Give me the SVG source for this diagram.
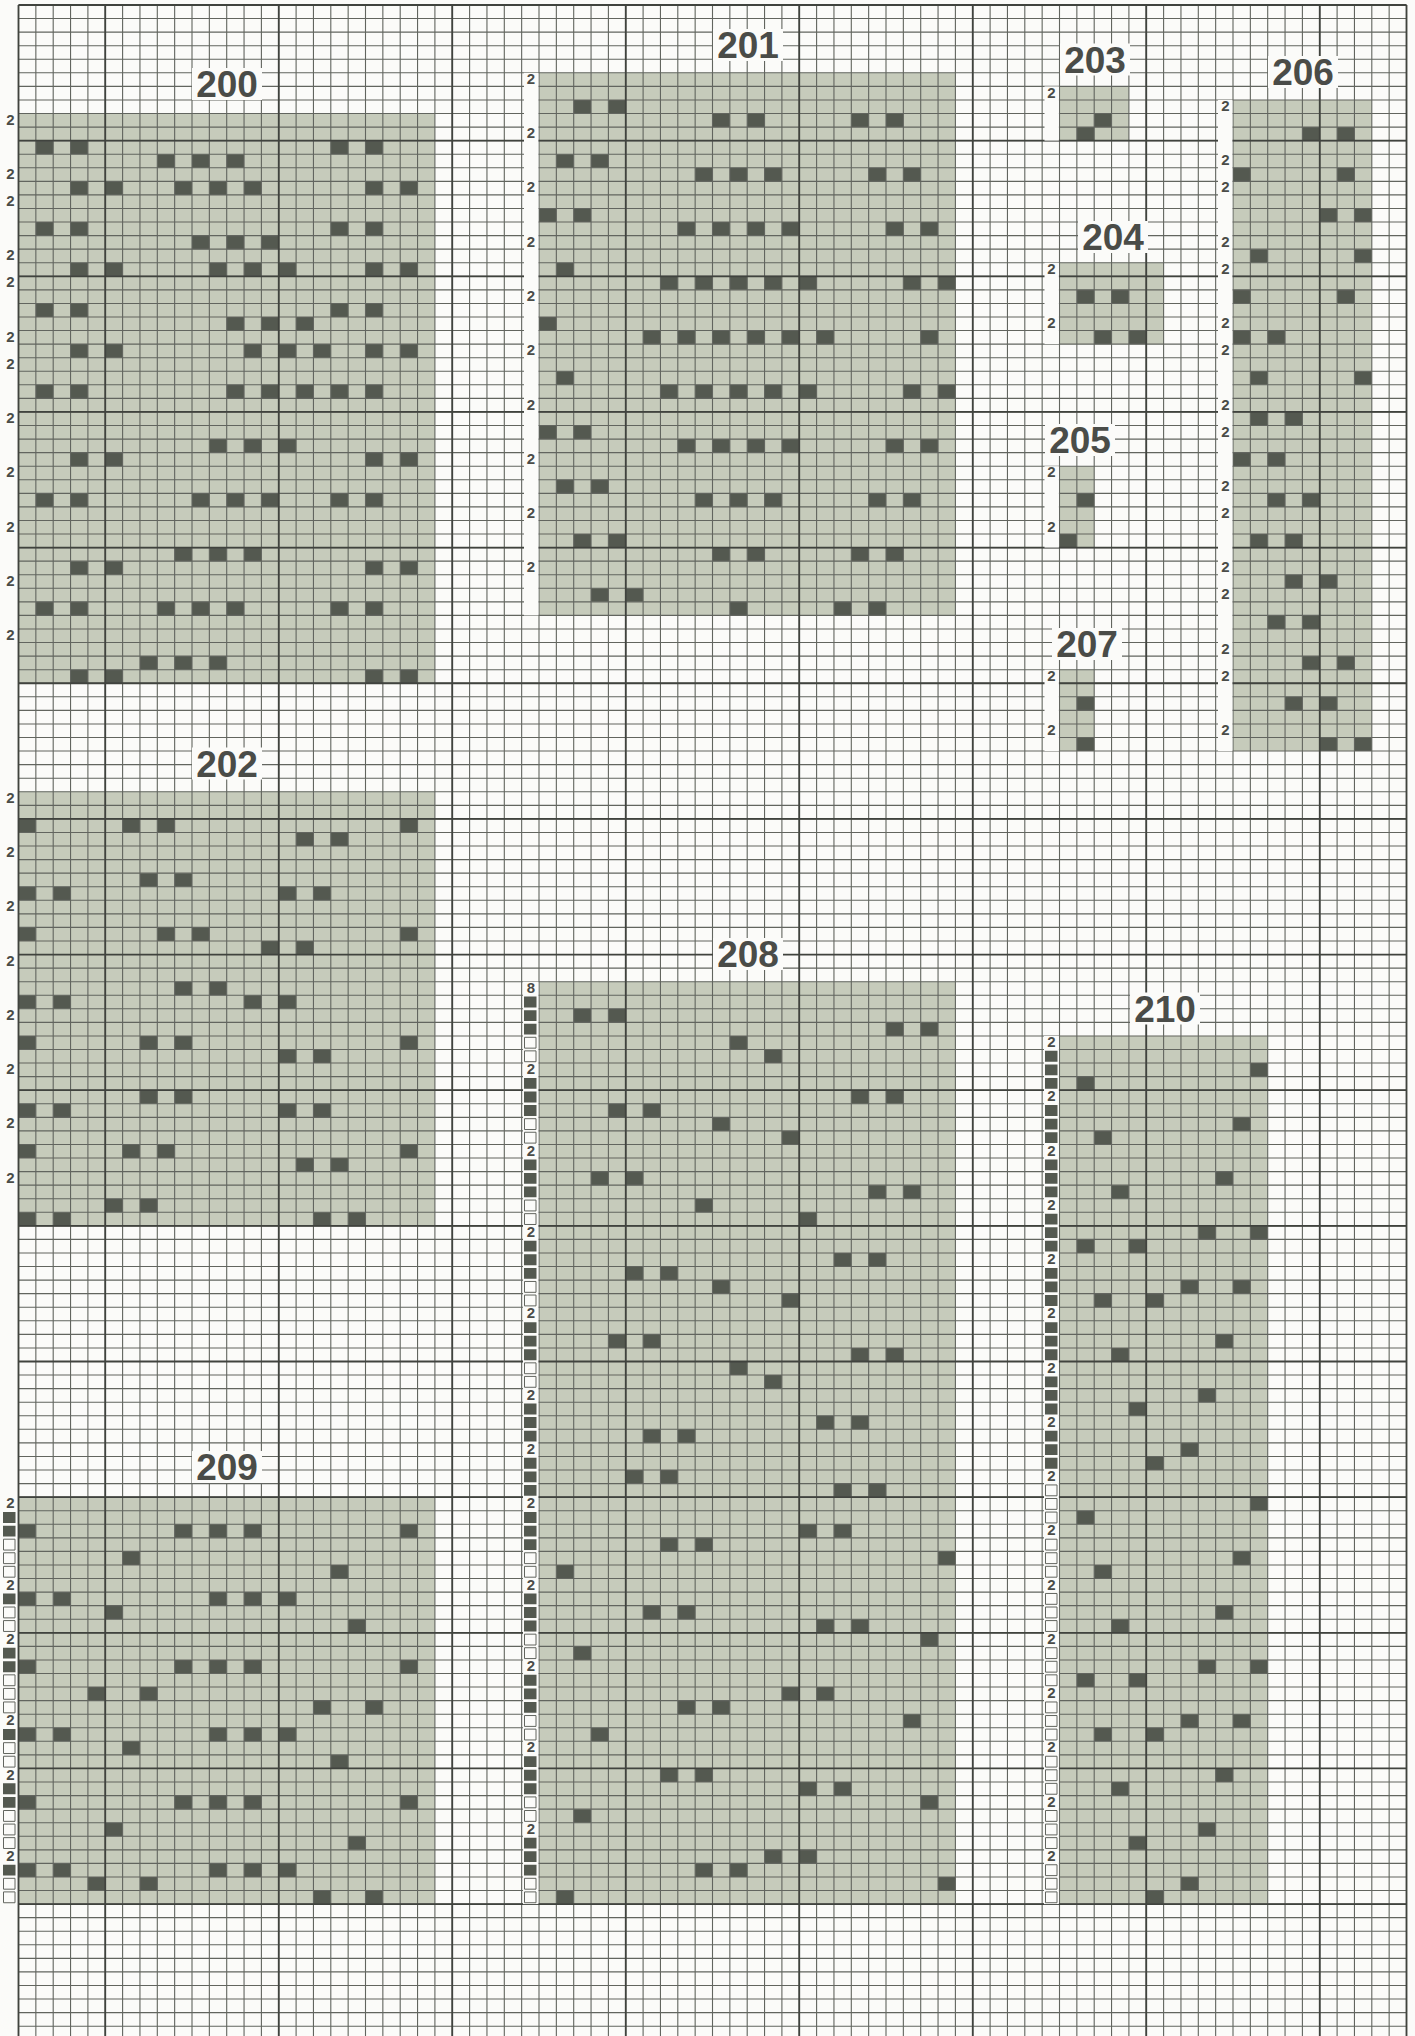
<svg xmlns="http://www.w3.org/2000/svg" width="1415" height="2036" viewBox="0 0 1415 2036">
<style>
.bg{fill:#fbfbf9}
.pf{fill:#c6cbbb}
.dk{fill:none;stroke:#545950;stroke-width:1}
.thin{fill:none;stroke:#62655f;stroke-width:1.1;vector-effect:non-scaling-stroke}
.heavy{fill:none;stroke:#40433e;stroke-width:1.8;vector-effect:non-scaling-stroke}
.strip{fill:#fbfbf9}
.lbl{font-family:"Liberation Sans",Arial,sans-serif;font-weight:bold;font-size:15px;fill:#4a4c48;text-anchor:middle}
.ttl{font-family:"Liberation Sans",Arial,sans-serif;font-weight:bold;font-size:37px;fill:#4a4c48;text-anchor:middle}
.tb{fill:#fbfbf9}
.mk{fill:none;stroke:#545950;stroke-width:.8}
.mo{fill:#fbfbf9;stroke:#62655f;stroke-width:1;vector-effect:non-scaling-stroke}
</style>
<rect class="bg" width="1415" height="2036"/>

<g id="panel-200" transform="translate(18.5 113.52) scale(17.35 13.565)"><rect class="pf" width="24" height="42"/><path class="dk" d="M1 2.5h1M3 2.5h1M18 2.5h1M20 2.5h1M8 3.5h1M10 3.5h1M12 3.5h1M3 5.5h1M5 5.5h1M9 5.5h1M11 5.5h1M13 5.5h1M20 5.5h1M22 5.5h1M1 8.5h1M3 8.5h1M18 8.5h1M20 8.5h1M10 9.5h1M12 9.5h1M14 9.5h1M3 11.5h1M5 11.5h1M11 11.5h1M13 11.5h1M15 11.5h1M20 11.5h1M22 11.5h1M1 14.5h1M3 14.5h1M18 14.5h1M20 14.5h1M12 15.5h1M14 15.5h1M16 15.5h1M3 17.5h1M5 17.5h1M13 17.5h1M15 17.5h1M17 17.5h1M20 17.5h1M22 17.5h1M1 20.5h1M3 20.5h1M12 20.5h1M14 20.5h1M16 20.5h1M18 20.5h1M20 20.5h1M11 24.5h1M13 24.5h1M15 24.5h1M3 25.5h1M5 25.5h1M20 25.5h1M22 25.5h1M1 28.5h1M3 28.5h1M10 28.5h1M12 28.5h1M14 28.5h1M18 28.5h1M20 28.5h1M9 32.5h1M11 32.5h1M13 32.5h1M3 33.5h1M5 33.5h1M20 33.5h1M22 33.5h1M1 36.5h1M3 36.5h1M8 36.5h1M10 36.5h1M12 36.5h1M18 36.5h1M20 36.5h1M7 40.5h1M9 40.5h1M11 40.5h1M3 41.5h1M5 41.5h1M20 41.5h1M22 41.5h1"/></g>

<g id="panel-201" transform="translate(539 72.83) scale(17.35 13.565)"><rect class="pf" width="24" height="40"/><path class="dk" d="M2 2.5h1M4 2.5h1M10 3.5h1M12 3.5h1M18 3.5h1M20 3.5h1M1 6.5h1M3 6.5h1M9 7.5h1M11 7.5h1M13 7.5h1M19 7.5h1M21 7.5h1M0 10.5h1M2 10.5h1M8 11.5h1M10 11.5h1M12 11.5h1M14 11.5h1M20 11.5h1M22 11.5h1M1 14.5h1M7 15.5h1M9 15.5h1M11 15.5h1M13 15.5h1M15 15.5h1M21 15.5h1M23 15.5h1M0 18.5h1M6 19.5h1M8 19.5h1M10 19.5h1M12 19.5h1M14 19.5h1M16 19.5h1M22 19.5h1M1 22.5h1M7 23.5h1M9 23.5h1M11 23.5h1M13 23.5h1M15 23.5h1M21 23.5h1M23 23.5h1M0 26.5h1M2 26.5h1M8 27.5h1M10 27.5h1M12 27.5h1M14 27.5h1M20 27.5h1M22 27.5h1M1 30.5h1M3 30.5h1M9 31.5h1M11 31.5h1M13 31.5h1M19 31.5h1M21 31.5h1M2 34.5h1M4 34.5h1M10 35.5h1M12 35.5h1M18 35.5h1M20 35.5h1M3 38.5h1M5 38.5h1M11 39.5h1M17 39.5h1M19 39.5h1"/></g>

<g id="panel-203" transform="translate(1059.5 86.39) scale(17.35 13.565)"><rect class="pf" width="4" height="4"/><path class="dk" d="M2 2.5h1M1 3.5h1"/></g>
<g id="panel-204" transform="translate(1059.5 262.74) scale(17.35 13.565)"><rect class="pf" width="6" height="6"/><path class="dk" d="M1 2.5h1M3 2.5h1M2 5.5h1M4 5.5h1"/></g>
<g id="panel-205" transform="translate(1059.5 466.21) scale(17.35 13.565)"><rect class="pf" width="2" height="6"/><path class="dk" d="M1 2.5h1M0 5.5h1"/></g>
<g id="panel-207" transform="translate(1059.5 669.69) scale(17.35 13.565)"><rect class="pf" width="2" height="6"/><path class="dk" d="M1 2.5h1M1 5.5h1"/></g>

<g id="panel-206" transform="translate(1233 99.96) scale(17.35 13.565)"><rect class="pf" width="8" height="48"/><path class="dk" d="M4 2.5h1M6 2.5h1M0 5.5h1M6 5.5h1M5 8.5h1M7 8.5h1M1 11.5h1M7 11.5h1M0 14.5h1M6 14.5h1M0 17.5h1M2 17.5h1M1 20.5h1M7 20.5h1M1 23.5h1M3 23.5h1M0 26.5h1M2 26.5h1M2 29.5h1M4 29.5h1M1 32.5h1M3 32.5h1M3 35.5h1M5 35.5h1M2 38.5h1M4 38.5h1M4 41.5h1M6 41.5h1M3 44.5h1M5 44.5h1M5 47.5h1M7 47.5h1"/></g>

<g id="panel-202" transform="translate(18.5 791.77) scale(17.35 13.565)"><rect class="pf" width="24" height="32"/><path class="dk" d="M0 2.5h1M6 2.5h1M8 2.5h1M22 2.5h1M16 3.5h1M18 3.5h1M7 6.5h1M9 6.5h1M0 7.5h1M2 7.5h1M15 7.5h1M17 7.5h1M0 10.5h1M8 10.5h1M10 10.5h1M22 10.5h1M14 11.5h1M16 11.5h1M9 14.5h1M11 14.5h1M0 15.5h1M2 15.5h1M13 15.5h1M15 15.5h1M0 18.5h1M7 18.5h1M9 18.5h1M22 18.5h1M15 19.5h1M17 19.5h1M7 22.5h1M9 22.5h1M0 23.5h1M2 23.5h1M15 23.5h1M17 23.5h1M0 26.5h1M6 26.5h1M8 26.5h1M22 26.5h1M16 27.5h1M18 27.5h1M5 30.5h1M7 30.5h1M0 31.5h1M2 31.5h1M17 31.5h1M19 31.5h1"/></g>

<g id="panel-208" transform="translate(539 981.68) scale(17.35 13.565)"><rect class="pf" width="24" height="68"/><path class="dk" d="M2 2.5h1M4 2.5h1M20 3.5h1M22 3.5h1M11 4.5h1M13 5.5h1M18 8.5h1M20 8.5h1M4 9.5h1M6 9.5h1M10 10.5h1M14 11.5h1M3 14.5h1M5 14.5h1M19 15.5h1M21 15.5h1M9 16.5h1M15 17.5h1M17 20.5h1M19 20.5h1M5 21.5h1M7 21.5h1M10 22.5h1M14 23.5h1M4 26.5h1M6 26.5h1M18 27.5h1M20 27.5h1M11 28.5h1M13 29.5h1M16 32.5h1M18 32.5h1M6 33.5h1M8 33.5h1M5 36.5h1M7 36.5h1M17 37.5h1M19 37.5h1M15 40.5h1M17 40.5h1M7 41.5h1M9 41.5h1M23 42.5h1M1 43.5h1M6 46.5h1M8 46.5h1M16 47.5h1M18 47.5h1M22 48.5h1M2 49.5h1M14 52.5h1M16 52.5h1M8 53.5h1M10 53.5h1M21 54.5h1M3 55.5h1M7 58.5h1M9 58.5h1M15 59.5h1M17 59.5h1M22 60.5h1M2 61.5h1M13 64.5h1M15 64.5h1M9 65.5h1M11 65.5h1M23 66.5h1M1 67.5h1"/></g>

<g id="panel-210" transform="translate(1059.5 1035.94) scale(17.35 13.565)"><rect class="pf" width="12" height="64"/><path class="dk" d="M11 2.5h1M1 3.5h1M10 6.5h1M2 7.5h1M9 10.5h1M3 11.5h1M8 14.5h1M11 14.5h1M1 15.5h1M4 15.5h1M7 18.5h1M10 18.5h1M2 19.5h1M5 19.5h1M9 22.5h1M3 23.5h1M8 26.5h1M4 27.5h1M7 30.5h1M5 31.5h1M11 34.5h1M1 35.5h1M10 38.5h1M2 39.5h1M9 42.5h1M3 43.5h1M8 46.5h1M11 46.5h1M1 47.5h1M4 47.5h1M7 50.5h1M10 50.5h1M2 51.5h1M5 51.5h1M9 54.5h1M3 55.5h1M8 58.5h1M4 59.5h1M7 62.5h1M5 63.5h1"/></g>

<g id="panel-209" transform="translate(18.5 1497.15) scale(17.35 13.565)"><rect class="pf" width="24" height="30"/><path class="dk" d="M0 2.5h1M9 2.5h1M11 2.5h1M13 2.5h1M22 2.5h1M6 4.5h1M18 5.5h1M0 7.5h1M2 7.5h1M11 7.5h1M13 7.5h1M15 7.5h1M5 8.5h1M19 9.5h1M0 12.5h1M9 12.5h1M11 12.5h1M13 12.5h1M22 12.5h1M4 14.5h1M7 14.5h1M17 15.5h1M20 15.5h1M0 17.5h1M2 17.5h1M11 17.5h1M13 17.5h1M15 17.5h1M6 18.5h1M18 19.5h1M0 22.5h1M9 22.5h1M11 22.5h1M13 22.5h1M22 22.5h1M5 24.5h1M19 25.5h1M0 27.5h1M2 27.5h1M11 27.5h1M13 27.5h1M15 27.5h1M4 28.5h1M7 28.5h1M17 29.5h1M20 29.5h1"/></g>

<g id="grid" transform="translate(18.5 5) scale(17.35 13.565)">
<path class="thin" d="M0 0V150M1 0V150M2 0V150M3 0V150M4 0V150M5 0V150M6 0V150M7 0V150M8 0V150M9 0V150M10 0V150M11 0V150M12 0V150M13 0V150M14 0V150M15 0V150M16 0V150M17 0V150M18 0V150M19 0V150M20 0V150M21 0V150M22 0V150M23 0V150M24 0V150M25 0V150M26 0V150M27 0V150M28 0V150M29 0V150M30 0V150M31 0V150M32 0V150M33 0V150M34 0V150M35 0V150M36 0V150M37 0V150M38 0V150M39 0V150M40 0V150M41 0V150M42 0V150M43 0V150M44 0V150M45 0V150M46 0V150M47 0V150M48 0V150M49 0V150M50 0V150M51 0V150M52 0V150M53 0V150M54 0V150M55 0V150M56 0V150M57 0V150M58 0V150M59 0V150M60 0V150M61 0V150M62 0V150M63 0V150M64 0V150M65 0V150M66 0V150M67 0V150M68 0V150M69 0V150M70 0V150M71 0V150M72 0V150M73 0V150M74 0V150M75 0V150M76 0V150M77 0V150M78 0V150M79 0V150M80 0V150"/>
<path class="thin" d="M0 0H80M0 1H80M0 2H80M0 3H80M0 4H80M0 5H80M0 6H80M0 7H80M0 8H80M0 9H80M0 10H80M0 11H80M0 12H80M0 13H80M0 14H80M0 15H80M0 16H80M0 17H80M0 18H80M0 19H80M0 20H80M0 21H80M0 22H80M0 23H80M0 24H80M0 25H80M0 26H80M0 27H80M0 28H80M0 29H80M0 30H80M0 31H80M0 32H80M0 33H80M0 34H80M0 35H80M0 36H80M0 37H80M0 38H80M0 39H80M0 40H80M0 41H80M0 42H80M0 43H80M0 44H80M0 45H80M0 46H80M0 47H80M0 48H80M0 49H80M0 50H80M0 51H80M0 52H80M0 53H80M0 54H80M0 55H80M0 56H80M0 57H80M0 58H80M0 59H80M0 60H80M0 61H80M0 62H80M0 63H80M0 64H80M0 65H80M0 66H80M0 67H80M0 68H80M0 69H80M0 70H80M0 71H80M0 72H80M0 73H80M0 74H80M0 75H80M0 76H80M0 77H80M0 78H80M0 79H80M0 80H80M0 81H80M0 82H80M0 83H80M0 84H80M0 85H80M0 86H80M0 87H80M0 88H80M0 89H80M0 90H80M0 91H80M0 92H80M0 93H80M0 94H80M0 95H80M0 96H80M0 97H80M0 98H80M0 99H80M0 100H80M0 101H80M0 102H80M0 103H80M0 104H80M0 105H80M0 106H80M0 107H80M0 108H80M0 109H80M0 110H80M0 111H80M0 112H80M0 113H80M0 114H80M0 115H80M0 116H80M0 117H80M0 118H80M0 119H80M0 120H80M0 121H80M0 122H80M0 123H80M0 124H80M0 125H80M0 126H80M0 127H80M0 128H80M0 129H80M0 130H80M0 131H80M0 132H80M0 133H80M0 134H80M0 135H80M0 136H80M0 137H80M0 138H80M0 139H80M0 140H80M0 141H80M0 142H80M0 143H80M0 144H80M0 145H80M0 146H80M0 147H80M0 148H80M0 149H80"/>
<path class="heavy" d="M0 0V150M80 0V150M5 0V150M15 0V150M25 0V150M35 0V150M45 0V150M55 0V150M65 0V150M75 0V150M0 0H80M0 10H80M0 20H80M0 30H80M0 40H80M0 50H80M0 60H80M0 70H80M0 80H80M0 90H80M0 100H80M0 110H80M0 120H80M0 130H80M0 140H80"/>
</g>

<g id="label-strips">
<rect class="strip" x="524" y="72.83" width="14.4" height="542.6"/>
<rect class="strip" x="1044.5" y="86.39" width="14.4" height="54.26"/>
<rect class="strip" x="1044.5" y="262.74" width="14.4" height="81.39"/>
<rect class="strip" x="1044.5" y="466.21" width="14.4" height="81.39"/>
<rect class="strip" x="1044.5" y="669.69" width="14.4" height="81.39"/>
<rect class="strip" x="1218" y="99.96" width="14.4" height="651.12"/>
<rect class="strip" x="523" y="981.68" width="15.4" height="922.42"/>
<rect class="strip" x="1044" y="1035.94" width="14.9" height="868.16"/>
</g>

<g id="row-labels" class="lbl">
<text x="10.5" y="124.6">2</text><text x="10.5" y="178.8">2</text><text x="10.5" y="206">2</text><text x="10.5" y="260.2">2</text><text x="10.5" y="287.4">2</text><text x="10.5" y="341.6">2</text><text x="10.5" y="368.8">2</text><text x="10.5" y="423">2</text><text x="10.5" y="477.3">2</text><text x="10.5" y="531.5">2</text><text x="10.5" y="585.8">2</text><text x="10.5" y="640.1">2</text>
<text x="531" y="83.9">2</text><text x="531" y="138.2">2</text><text x="531" y="192.4">2</text><text x="531" y="246.7">2</text><text x="531" y="300.9">2</text><text x="531" y="355.2">2</text><text x="531" y="409.5">2</text><text x="531" y="463.7">2</text><text x="531" y="518">2</text><text x="531" y="572.2">2</text>
<text x="1051.5" y="97.5">2</text>
<text x="1051.5" y="273.8">2</text><text x="1051.5" y="328.1">2</text>
<text x="1051.5" y="477.3">2</text><text x="1051.5" y="531.5">2</text>
<text x="1051.5" y="680.8">2</text><text x="1051.5" y="735">2</text>
<text x="1225.5" y="111">2</text><text x="1225.5" y="165.3">2</text><text x="1225.5" y="192.4">2</text><text x="1225.5" y="246.7">2</text><text x="1225.5" y="273.8">2</text><text x="1225.5" y="328.1">2</text><text x="1225.5" y="355.2">2</text><text x="1225.5" y="409.5">2</text><text x="1225.5" y="436.6">2</text><text x="1225.5" y="490.8">2</text><text x="1225.5" y="518">2</text><text x="1225.5" y="572.2">2</text><text x="1225.5" y="599.4">2</text><text x="1225.5" y="653.6">2</text><text x="1225.5" y="680.8">2</text><text x="1225.5" y="735">2</text>
<text x="10.5" y="802.8">2</text><text x="10.5" y="857.1">2</text><text x="10.5" y="911.4">2</text><text x="10.5" y="965.6">2</text><text x="10.5" y="1019.9">2</text><text x="10.5" y="1074.1">2</text><text x="10.5" y="1128.4">2</text><text x="10.5" y="1182.7">2</text>
<text x="531" y="992.8">8</text><text x="531" y="1074.1">2</text><text x="531" y="1155.5">2</text><text x="531" y="1236.9">2</text><text x="531" y="1318.3">2</text><text x="531" y="1399.7">2</text><text x="531" y="1454">2</text><text x="531" y="1508.2">2</text><text x="531" y="1589.6">2</text><text x="531" y="1671">2</text><text x="531" y="1752.4">2</text><text x="531" y="1833.8">2</text>
<text x="1051.5" y="1047">2</text><text x="1051.5" y="1101.3">2</text><text x="1051.5" y="1155.5">2</text><text x="1051.5" y="1209.8">2</text><text x="1051.5" y="1264.1">2</text><text x="1051.5" y="1318.3">2</text><text x="1051.5" y="1372.6">2</text><text x="1051.5" y="1426.8">2</text><text x="1051.5" y="1481.1">2</text><text x="1051.5" y="1535.4">2</text><text x="1051.5" y="1589.6">2</text><text x="1051.5" y="1643.9">2</text><text x="1051.5" y="1698.1">2</text><text x="1051.5" y="1752.4">2</text><text x="1051.5" y="1806.7">2</text><text x="1051.5" y="1860.9">2</text>
<text x="10.5" y="1508.2">2</text><text x="10.5" y="1589.6">2</text><text x="10.5" y="1643.9">2</text><text x="10.5" y="1725.3">2</text><text x="10.5" y="1779.5">2</text><text x="10.5" y="1860.9">2</text>
</g>

<g id="markers-208" transform="translate(524 981.68) scale(1 13.565)">
<path class="mk" d="M0 1.5h12.5M0 2.5h12.5M0 3.5h12.5M0 7.5h12.5M0 8.5h12.5M0 9.5h12.5M0 13.5h12.5M0 14.5h12.5M0 15.5h12.5M0 19.5h12.5M0 20.5h12.5M0 21.5h12.5M0 25.5h12.5M0 26.5h12.5M0 27.5h12.5M0 31.5h12.5M0 32.5h12.5M0 33.5h12.5M0 35.5h12.5M0 36.5h12.5M0 37.5h12.5M0 39.5h12.5M0 40.5h12.5M0 41.5h12.5M0 45.5h12.5M0 46.5h12.5M0 47.5h12.5M0 51.5h12.5M0 52.5h12.5M0 53.5h12.5M0 57.5h12.5M0 58.5h12.5M0 59.5h12.5M0 63.5h12.5M0 64.5h12.5M0 65.5h12.5"/>
<path class="mo" d="M.5 4.1h11.5v.8h-11.5zM.5 5.1h11.5v.8h-11.5zM.5 10.1h11.5v.8h-11.5zM.5 11.1h11.5v.8h-11.5zM.5 16.1h11.5v.8h-11.5zM.5 17.1h11.5v.8h-11.5zM.5 22.1h11.5v.8h-11.5zM.5 23.1h11.5v.8h-11.5zM.5 28.1h11.5v.8h-11.5zM.5 29.1h11.5v.8h-11.5zM.5 42.1h11.5v.8h-11.5zM.5 43.1h11.5v.8h-11.5zM.5 48.1h11.5v.8h-11.5zM.5 49.1h11.5v.8h-11.5zM.5 54.1h11.5v.8h-11.5zM.5 55.1h11.5v.8h-11.5zM.5 60.1h11.5v.8h-11.5zM.5 61.1h11.5v.8h-11.5zM.5 66.1h11.5v.8h-11.5zM.5 67.1h11.5v.8h-11.5z"/>
</g>

<g id="markers-210" transform="translate(1045 1035.94) scale(1 13.565)">
<path class="mk" d="M0 1.5h12.5M0 2.5h12.5M0 3.5h12.5M0 5.5h12.5M0 6.5h12.5M0 7.5h12.5M0 9.5h12.5M0 10.5h12.5M0 11.5h12.5M0 13.5h12.5M0 14.5h12.5M0 15.5h12.5M0 17.5h12.5M0 18.5h12.5M0 19.5h12.5M0 21.5h12.5M0 22.5h12.5M0 23.5h12.5M0 25.5h12.5M0 26.5h12.5M0 27.5h12.5M0 29.5h12.5M0 30.5h12.5M0 31.5h12.5"/>
<path class="mo" d="M.5 33.1h11.5v.8h-11.5zM.5 34.1h11.5v.8h-11.5zM.5 35.1h11.5v.8h-11.5zM.5 37.1h11.5v.8h-11.5zM.5 38.1h11.5v.8h-11.5zM.5 39.1h11.5v.8h-11.5zM.5 41.1h11.5v.8h-11.5zM.5 42.1h11.5v.8h-11.5zM.5 43.1h11.5v.8h-11.5zM.5 45.1h11.5v.8h-11.5zM.5 46.1h11.5v.8h-11.5zM.5 47.1h11.5v.8h-11.5zM.5 49.1h11.5v.8h-11.5zM.5 50.1h11.5v.8h-11.5zM.5 51.1h11.5v.8h-11.5zM.5 53.1h11.5v.8h-11.5zM.5 54.1h11.5v.8h-11.5zM.5 55.1h11.5v.8h-11.5zM.5 57.1h11.5v.8h-11.5zM.5 58.1h11.5v.8h-11.5zM.5 59.1h11.5v.8h-11.5zM.5 61.1h11.5v.8h-11.5zM.5 62.1h11.5v.8h-11.5zM.5 63.1h11.5v.8h-11.5z"/>
</g>

<g id="markers-209" transform="translate(3 1497.15) scale(1 13.565)">
<path class="mk" d="M0 1.5h12.5M0 2.5h12.5M0 7.5h12.5M0 11.5h12.5M0 12.5h12.5M0 17.5h12.5M0 21.5h12.5M0 22.5h12.5M0 27.5h12.5"/>
<path class="mo" d="M.5 3.1h11.5v.8h-11.5zM.5 4.1h11.5v.8h-11.5zM.5 5.1h11.5v.8h-11.5zM.5 8.1h11.5v.8h-11.5zM.5 9.1h11.5v.8h-11.5zM.5 13.1h11.5v.8h-11.5zM.5 14.1h11.5v.8h-11.5zM.5 15.1h11.5v.8h-11.5zM.5 18.1h11.5v.8h-11.5zM.5 19.1h11.5v.8h-11.5zM.5 23.1h11.5v.8h-11.5zM.5 24.1h11.5v.8h-11.5zM.5 25.1h11.5v.8h-11.5zM.5 28.1h11.5v.8h-11.5zM.5 29.1h11.5v.8h-11.5z"/>
</g>

<g id="titles">
<g id="title-200"><rect class="tb" x="192" y="68" width="70" height="32"/><text class="ttl" x="227" y="97">200</text></g>
<g id="title-201"><rect class="tb" x="713" y="29" width="70" height="32"/><text class="ttl" x="748" y="58">201</text></g>
<g id="title-203"><rect class="tb" x="1060" y="43.5" width="70" height="32"/><text class="ttl" x="1095" y="72.5">203</text></g>
<g id="title-204"><rect class="tb" x="1078" y="221" width="70" height="32"/><text class="ttl" x="1113" y="250">204</text></g>
<g id="title-205"><rect class="tb" x="1045" y="424" width="70" height="32"/><text class="ttl" x="1080" y="453">205</text></g>
<g id="title-206"><rect class="tb" x="1268" y="56" width="70" height="32"/><text class="ttl" x="1303" y="85">206</text></g>
<g id="title-207"><rect class="tb" x="1052" y="628" width="70" height="32"/><text class="ttl" x="1087" y="657">207</text></g>
<g id="title-202"><rect class="tb" x="192" y="747.5" width="70" height="32"/><text class="ttl" x="227" y="776.5">202</text></g>
<g id="title-208"><rect class="tb" x="713" y="938" width="70" height="32"/><text class="ttl" x="748" y="967">208</text></g>
<g id="title-210"><rect class="tb" x="1130" y="992.5" width="70" height="32"/><text class="ttl" x="1165" y="1021.5">210</text></g>
<g id="title-209"><rect class="tb" x="192" y="1451" width="70" height="32"/><text class="ttl" x="227" y="1480">209</text></g>
</g>
</svg>
